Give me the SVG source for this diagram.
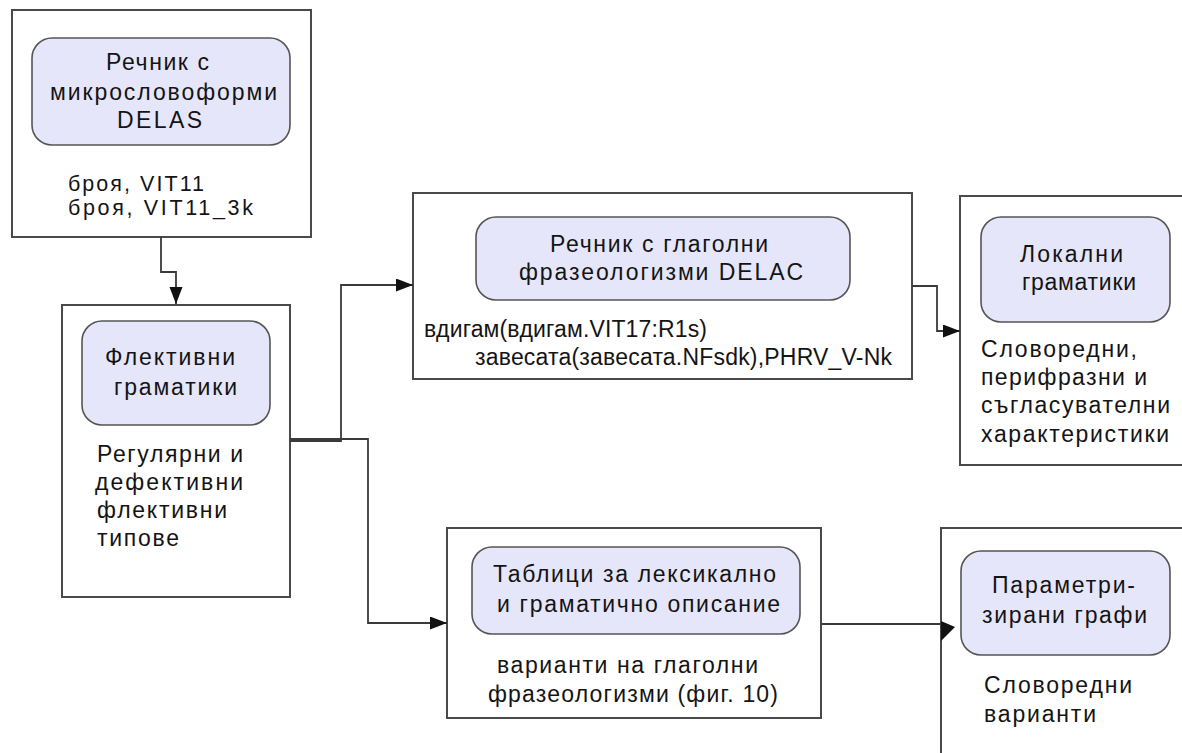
<svg xmlns="http://www.w3.org/2000/svg" width="1182" height="753" viewBox="0 0 1182 753">
  <style>
    .frame { fill: #ffffff; stroke: #4a4a4a; stroke-width: 2; }
    .core { fill: #e6e6fa; stroke: #555555; stroke-width: 1.6; }
    .lbl { font-family: "Liberation Sans", Arial, sans-serif; font-size: 23px; fill: #141414; }
    .small { font-size: 21.5px; }
    .wire { fill: none; stroke: #3a3a3a; stroke-width: 1.8; }
  </style>
  <defs>
    <marker id="arrow" markerUnits="userSpaceOnUse" markerWidth="18" markerHeight="14" refX="17" refY="6.5" orient="auto">
      <path d="M0,0 L17,6.5 L0,13 Z" fill="#111111"/>
    </marker>
  </defs>
  <rect width="1182" height="753" fill="#ffffff"/>

  <!-- DELAS dictionary -->
  <g id="node-delas">
    <rect class="frame" x="12" y="10" width="299" height="227"/>
    <rect class="core" x="32" y="38" width="258" height="107" rx="20"/>
    <text class="lbl" x="106" y="70" textLength="103" lengthAdjust="spacing">Речник с</text>
    <text class="lbl" x="50" y="100" textLength="227" lengthAdjust="spacing">микрословоформи</text>
    <text class="lbl" x="117" y="128" textLength="85" lengthAdjust="spacing">DELAS</text>
    <text class="lbl small" x="68" y="191" textLength="136" lengthAdjust="spacing">броя, VIT11</text>
    <text class="lbl small" x="68" y="215" textLength="185" lengthAdjust="spacing">броя, VIT11_3k</text>
  </g>

  <!-- inflectional grammars -->
  <g id="node-inflection">
    <rect class="frame" x="62" y="305" width="228" height="292"/>
    <rect class="core" x="82" y="321" width="188" height="104" rx="20"/>
    <text class="lbl" x="105" y="365" textLength="130" lengthAdjust="spacing">Флективни</text>
    <text class="lbl" x="114" y="395" textLength="123" lengthAdjust="spacing">граматики</text>
    <text class="lbl" x="97" y="462" textLength="146" lengthAdjust="spacing">Регулярни и</text>
    <text class="lbl" x="95" y="490" textLength="148" lengthAdjust="spacing">дефективни</text>
    <text class="lbl" x="97" y="518" textLength="130" lengthAdjust="spacing">флективни</text>
    <text class="lbl" x="97" y="546" textLength="82" lengthAdjust="spacing">типове</text>
  </g>

  <!-- DELAC dictionary -->
  <g id="node-delac">
    <rect class="frame" x="413" y="193" width="499" height="186"/>
    <rect class="core" x="476" y="217" width="374" height="83" rx="20"/>
    <text class="lbl" x="550" y="252" textLength="218" lengthAdjust="spacing">Речник с глаголни</text>
    <text class="lbl" x="519" y="280" textLength="284" lengthAdjust="spacing">фразеологизми DELAC</text>
    <text class="lbl" x="424" y="337" textLength="283" lengthAdjust="spacing">вдигам(вдигам.VIT17:R1s)</text>
    <text class="lbl" x="475" y="365" textLength="417" lengthAdjust="spacing">завесата(завесата.NFsdk),PHRV_V-Nk</text>
  </g>

  <!-- local grammars -->
  <g id="node-local">
    <rect class="frame" x="960" y="196" width="240" height="269"/>
    <rect class="core" x="981" y="217" width="189" height="105" rx="20"/>
    <text class="lbl" x="1020" y="262" textLength="103" lengthAdjust="spacing">Локални</text>
    <text class="lbl" x="1022" y="290" textLength="114" lengthAdjust="spacing">граматики</text>
    <text class="lbl" x="981" y="357" textLength="156" lengthAdjust="spacing">Словоредни,</text>
    <text class="lbl" x="981" y="385" textLength="166" lengthAdjust="spacing">перифразни и</text>
    <text class="lbl" x="981" y="413" textLength="189" lengthAdjust="spacing">съгласувателни</text>
    <text class="lbl" x="981" y="442" textLength="188" lengthAdjust="spacing">характеристики</text>
  </g>

  <!-- lexicon-grammar tables -->
  <g id="node-tables">
    <rect class="frame" x="447" y="528" width="374" height="190"/>
    <rect class="core" x="472" y="547" width="328" height="87" rx="20"/>
    <text class="lbl" x="493" y="582" textLength="283" lengthAdjust="spacing">Таблици за лексикално</text>
    <text class="lbl" x="497" y="612" textLength="283" lengthAdjust="spacing">и граматично описание</text>
    <text class="lbl" x="497" y="673" textLength="261" lengthAdjust="spacing">варианти на глаголни</text>
    <text class="lbl" x="488" y="702" textLength="290" lengthAdjust="spacing">фразеологизми (фиг. 10)</text>
  </g>

  <!-- parameterized graphs -->
  <g id="node-graphs">
    <rect class="frame" x="941" y="528" width="260" height="240"/>
    <rect class="core" x="961" y="551" width="209" height="104" rx="20"/>
    <text class="lbl" x="992" y="593" textLength="143" lengthAdjust="spacing">Параметри-</text>
    <text class="lbl" x="982" y="623" textLength="165" lengthAdjust="spacing">зирани графи</text>
    <text class="lbl" x="984" y="693" textLength="148" lengthAdjust="spacing">Словоредни</text>
    <text class="lbl" x="984" y="722" textLength="112" lengthAdjust="spacing">варианти</text>
  </g>

  <!-- connectors -->
  <g id="connectors">
    <path class="wire" d="M161,237 V272 H176 V304" marker-end="url(#arrow)"/>
    <path class="wire" d="M290,441 H341 V285 H413" marker-end="url(#arrow)"/>
    <path class="wire" d="M290,439 H368 V623 H447" marker-end="url(#arrow)"/>
    <path class="wire" d="M912,286 H937 V331 H960" marker-end="url(#arrow)"/>
    <path class="wire" d="M821,624 H941"/>
    <path d="M941,621 L955,627 L941,641 Z" fill="#111111"/>
  </g>
</svg>
